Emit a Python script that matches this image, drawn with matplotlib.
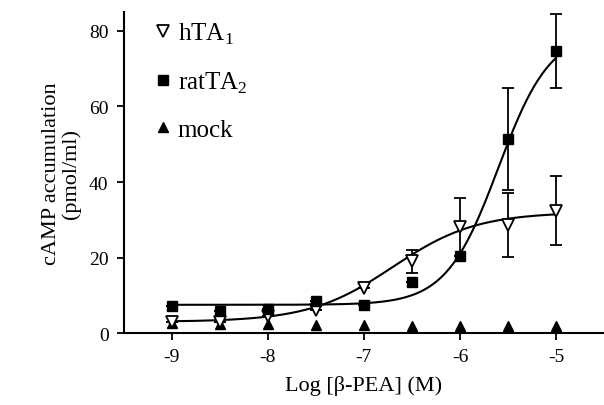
import numpy as np
import matplotlib
matplotlib.use("Agg")
import matplotlib.pyplot as plt
from matplotlib.lines import Line2D

plt.rcParams['font.family'] = ['Liberation Serif', 'DejaVu Serif']
plt.rcParams['mathtext.fontset'] = 'custom'
plt.rcParams['mathtext.rm'] = 'Liberation Serif'
plt.rcParams['axes.unicode_minus'] = False

# log concentrations
log_conc = [-9, -8.5, -8, -7.5, -7, -6.5, -6, -5.5, -5]

# measured values (pmol/ml)
hta1 = [3.0, 3.0, 4.5, 6.0, 12.0, 19.0, 28.0, 28.7, 32.4]
hta1_err = [0, 0, 0, 0, 0, 3.0, 7.7, 8.5, 9.2]
rat_ta2 = [7.2, 5.8, 6.3, 8.4, 7.4, 13.5, 20.5, 51.4, 74.7]
rat_ta2_err = [0, 0, 0, 0, 0, 0, 0, 13.5, 9.8]
mock = [2.6, 2.4, 2.4, 2.2, 2.2, 2.0, 2.0, 2.0, 2.0]

# fitted sigmoid parameters (bottom, top, logEC50, hill)
hta1_fit = (3.0, 32.0, -6.7, 1.0)
rat_fit = (7.5, 80.0, -5.6, 1.6)


def sigmoid(x, p):
    bottom, top, ec50, hill = p
    return bottom + (top - bottom) / (1 + 10 ** (hill * (ec50 - x)))


fig = plt.figure(figsize=(6.04, 4.06), dpi=100)
ax = fig.add_axes([0.205, 0.177, 0.795, 0.791])

xs = np.linspace(-9, -5, 300)
ax.plot(xs, sigmoid(xs, hta1_fit), color='black', lw=1.5)
ax.plot(xs, sigmoid(xs, rat_fit), color='black', lw=1.5)

ax.errorbar(log_conc, hta1, yerr=hta1_err, fmt='v', mfc='white', mec='black',
            mew=1.3, ms=8, ecolor='black', elinewidth=1.3, capsize=4, capthick=1.3,
            zorder=3)
ax.errorbar(log_conc, rat_ta2, yerr=rat_ta2_err, fmt='s', color='black', ms=7,
            ecolor='black', elinewidth=1.3, capsize=4, capthick=1.3, zorder=3)
ax.plot(log_conc, mock, '^', color='black', ms=6.5, ls='none', zorder=3)

ax.set_xlim(-9.5, -4.5)
ax.set_ylim(0, 85)
ax.set_xticks([-9, -8, -7, -6, -5])
ax.set_yticks([0, 20, 40, 60, 80])
ax.spines['top'].set_visible(False)
ax.spines['right'].set_visible(False)
ax.spines['left'].set_linewidth(1.5)
ax.spines['bottom'].set_linewidth(1.5)
ax.tick_params(direction='out', width=1.3, length=5, labelsize=14, pad=6)

ax.set_xlabel('Log [β-PEA] (M)', fontsize=16, labelpad=7)
ax.set_ylabel('cAMP accumulation\n(pmol/ml)', fontsize=16, labelpad=6,
              linespacing=1.0)

handles = [
    Line2D([], [], marker='v', ls='none', mfc='white', mec='black', mew=1.3, ms=8),
    Line2D([], [], marker='s', ls='none', color='black', ms=7),
    Line2D([], [], marker='^', ls='none', color='black', ms=7),
]
ax.legend(handles, ['hTA$_1$', 'ratTA$_2$', 'mock'], loc='upper left',
          frameon=False, fontsize=18, handlelength=0.6, handletextpad=0.3,
          labelspacing=0.95, borderaxespad=0.0, bbox_to_anchor=(0.045, 1.005))

fig.savefig('out.png', dpi=100)
